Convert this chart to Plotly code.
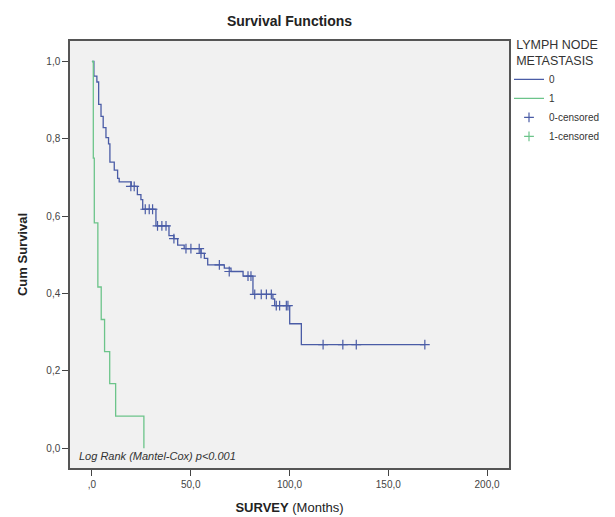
import plotly.graph_objects as go

# Group 0 (no lymph node metastasis): step times and survival after each step
g0_time = [0.0, 1.0, 2.5, 3.4, 4.6, 5.7, 7.1, 8.4, 9.1, 11.3, 13.0, 13.8, 19.9, 23.0, 24.8,
           25.7, 32.4, 39.0, 41.5, 43.4, 46.7, 55.2, 56.9, 58.6, 67.0, 70.4, 76.5, 81.5,
           91.6, 92.5, 100.1, 106.0, 168.5]
g0_surv = [1.0, 0.962, 0.947, 0.889, 0.858, 0.829, 0.803, 0.787, 0.74, 0.719, 0.698, 0.689,
           0.677, 0.656, 0.643, 0.618, 0.575, 0.55, 0.542, 0.525, 0.516, 0.504, 0.491, 0.474,
           0.466, 0.457, 0.445, 0.398, 0.386, 0.369, 0.322, 0.268, 0.268]

# Group 0 censored observations
g0_cens_time = [19.7, 21.4, 27.0, 29.0, 30.7, 33.2, 35.4, 37.5, 41.5, 47.6, 50.1, 54.3,
                55.2, 64.5, 69.5, 79.0, 80.5, 82.4, 85.7, 88.3, 90.8, 93.3, 95.0, 98.4,
                99.2, 117.0, 127.0, 133.8, 168.5]
g0_cens_surv = [0.677, 0.677, 0.618, 0.618, 0.618, 0.575, 0.575, 0.575, 0.542, 0.516, 0.516,
                0.516, 0.504, 0.474, 0.457, 0.445, 0.445, 0.398, 0.398, 0.398, 0.398, 0.369,
                0.369, 0.369, 0.369, 0.268, 0.268, 0.268, 0.268]

# Group 1 (lymph node metastasis)
g1_time = [0.0, 0.7, 1.2, 3.0, 4.7, 6.4, 9.0, 12.0, 26.3]
g1_surv = [1.0, 0.75, 0.583, 0.417, 0.333, 0.25, 0.167, 0.083, 0.0]

# Group 1 censored observations (none)
g1_cens_time = [None]
g1_cens_surv = [None]

x_ticks = [0, 50, 100, 150, 200]
x_ticklabels = [",0", "50,0", "100,0", "150,0", "200,0"]
y_ticks = [0.0, 0.2, 0.4, 0.6, 0.8, 1.0]
y_ticklabels = ["0,0", "0,2", "0,4", "0,6", "0,8", "1,0"]

BLUE = "#4a5ca6"
GREEN = "#6cc48a"
FONT = "Liberation Sans, Arial, sans-serif"

fig = go.Figure()
fig.add_trace(go.Scatter(x=g0_time, y=g0_surv, mode="lines", line_shape="hv",
                         line=dict(color=BLUE, width=1.3), name="0"))
fig.add_trace(go.Scatter(x=g1_time, y=g1_surv, mode="lines", line_shape="hv",
                         line=dict(color=GREEN, width=1.3), name="1"))
fig.add_trace(go.Scatter(x=g0_cens_time, y=g0_cens_surv, mode="markers",
                         marker=dict(symbol="cross-thin-open", size=7, color=BLUE,
                                     line=dict(color=BLUE, width=1.2)),
                         name="0-censored"))
fig.add_trace(go.Scatter(x=g1_cens_time, y=g1_cens_surv, mode="markers",
                         marker=dict(symbol="cross-thin-open", size=7, color=GREEN,
                                     line=dict(color=GREEN, width=1.2)),
                         name="1-censored"))

fig.update_layout(
    width=615, height=517,
    margin=dict(l=62, r=114, t=33, b=48),
    paper_bgcolor="white",
    plot_bgcolor="#f1f1f1",
    font=dict(family=FONT, size=10, color="#333333"),
    title=dict(text="<b>Survival Functions</b>", x=281.5 / 615, xanchor="center",
               y=1 - 13 / 517, yanchor="middle",
               font=dict(family=FONT, size=14, color="#222222")),
    xaxis=dict(range=[-11.1, 211.1], tickvals=x_ticks, ticktext=x_ticklabels,
               ticks="outside", ticklen=6, tickcolor="#444444", showgrid=False,
               zeroline=False, showline=True, linecolor="#555555", linewidth=1.5,
               mirror=True, tickfont=dict(size=10, color="#444444"),
               title=dict(text="<b>SURVEY</b> (Months)", standoff=14,
                          font=dict(family=FONT, size=13, color="#222222"))),
    yaxis=dict(range=[-0.051, 1.053], tickvals=y_ticks, ticktext=y_ticklabels,
               ticks="outside", ticklen=6, tickcolor="#444444", showgrid=False,
               zeroline=False, showline=True, linecolor="#555555", linewidth=1.5,
               mirror=True, tickfont=dict(size=10, color="#444444"),
               title=dict(text="<b>Cum Survival</b>", standoff=16,
                          font=dict(family=FONT, size=13, color="#222222"))),
    legend=dict(x=1.0, xanchor="left", y=1.02, yanchor="top",
                bgcolor="rgba(0,0,0,0)", itemwidth=30, tracegroupgap=0,
                font=dict(family=FONT, size=10, color="#333333"),
                title=dict(text="LYMPH NODE<br>METASTASIS", side="top center",
                           font=dict(family=FONT, size=12.5, color="#333333"))),
    annotations=[dict(text="<i>Log Rank (Mantel-Cox) p<0.001</i>", x=0.015, xref="paper",
                      y=0.0, yref="paper", xanchor="left", yanchor="bottom",
                      yshift=4, showarrow=False,
                      font=dict(family=FONT, size=11, color="#333333"))],
)

fig.write_html("out.html")
